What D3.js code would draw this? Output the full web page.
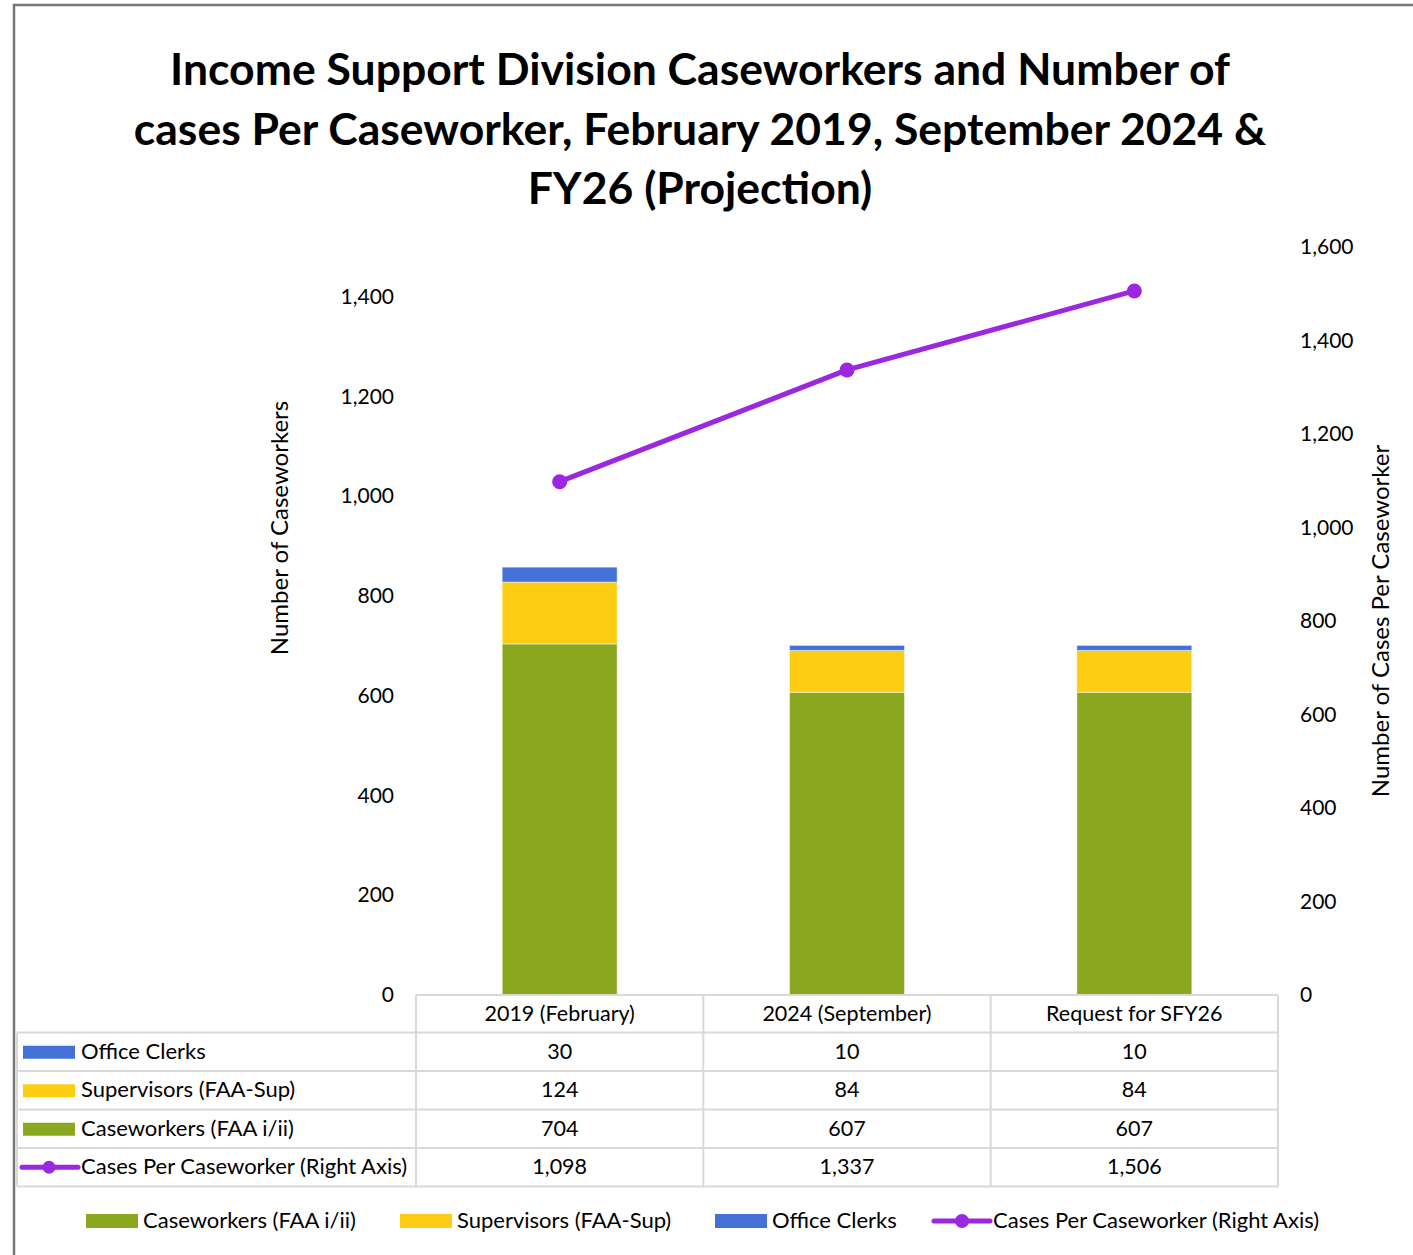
<!DOCTYPE html>
<html>
<head>
<meta charset="utf-8">
<script src="https://cdn.jsdelivr.net/npm/d3@7"></script>
<style>
  html, body { margin: 0; padding: 0; background: #fff; }
  svg { display: block; font-family: Lato, "Open Sans", sans-serif; }
  .title { font-weight: 700; font-size: 44.5px; fill: #000; }
  .tick-label { font-size: 21px; fill: #000; }
  .axis-title { font-size: 24px; fill: #000; }
  .table-text { font-size: 21.5px; fill: #000; }
  .label-text { font-size: 22px; fill: #000; }
  .grid-line { stroke: #d9d9d9; stroke-width: 2; }
</style>
</head>
<body>
<div id="chart"></div>
<script>
const categories = ["2019 (February)", "2024 (September)", "Request for SFY26"];
const caseworkers = [704, 607, 607];
const supervisors = [124, 84, 84];
const officeClerks = [30, 10, 10];
const casesPerCaseworker = [1098, 1337, 1506];
const leftTicks = [0, 200, 400, 600, 800, 1000, 1200, 1400];
const rightTicks = [0, 200, 400, 600, 800, 1000, 1200, 1400, 1600];
const titleLines = [
  "Income Support Division Caseworkers and Number of",
  "cases Per Caseworker, February 2019, September 2024 &",
  "FY26 (Projection)"
];

const WIDTH = 1413;
const HEIGHT = 1255;
const PLOT = { left: 416, right: 1278, top: 247, bottom: 995 };
const TABLE_LEFT = 15;
const ROW_H = 38.5;

const COLORS = {
  caseworkers: "#8aa81f",
  supervisors: "#fccd12",
  clerks: "#4471d8",
  line: "#9b27e0"
};

const fmt = d3.format(",");

const rows = categories.map((c, i) => ({
  category: c,
  caseworkers: caseworkers[i],
  supervisors: supervisors[i],
  clerks: officeClerks[i],
  cases: casesPerCaseworker[i]
}));

const svg = d3.select("#chart").append("svg")
  .attr("width", WIDTH)
  .attr("height", HEIGHT)
  .attr("viewBox", `0 0 ${WIDTH} ${HEIGHT}`);

// outer frame (runs off right and bottom edges like the screenshot)
svg.append("rect")
  .attr("x", 14).attr("y", 5)
  .attr("width", 1500).attr("height", 1400)
  .attr("fill", "none")
  .attr("stroke", "#767676")
  .attr("stroke-width", 2.5);

// title
svg.append("g").selectAll("text")
  .data(titleLines)
  .join("text")
  .attr("class", "title")
  .attr("x", 700)
  .attr("y", (d, i) => 85 + i * 59.5)
  .attr("text-anchor", "middle")
  .text(d => d);

const x = d3.scaleBand()
  .domain(categories)
  .range([PLOT.left, PLOT.right])
  .paddingInner(0)
  .paddingOuter(0);

const yLeft = d3.scaleLinear().domain([0, 1500]).range([PLOT.bottom, PLOT.top]);
const yRight = d3.scaleLinear().domain([0, 1600]).range([PLOT.bottom, PLOT.top]);

// left axis labels
svg.append("g").selectAll("text")
  .data(leftTicks)
  .join("text")
  .attr("class", "tick-label")
  .attr("x", 394)
  .attr("y", d => yLeft(d) + 7)
  .attr("text-anchor", "end")
  .text(d => fmt(d));

// right axis labels
svg.append("g").selectAll("text")
  .data(rightTicks)
  .join("text")
  .attr("class", "tick-label")
  .attr("x", 1300)
  .attr("y", d => yRight(d) + 7)
  .attr("text-anchor", "start")
  .text(d => fmt(d));

svg.append("text")
  .attr("class", "axis-title")
  .attr("transform", "translate(288,528) rotate(-90)")
  .attr("text-anchor", "middle")
  .text("Number of Caseworkers");

svg.append("text")
  .attr("class", "axis-title")
  .attr("transform", "translate(1389,621) rotate(-90)")
  .attr("text-anchor", "middle")
  .text("Number of Cases Per Caseworker");

// stacked bars
const keys = ["caseworkers", "supervisors", "clerks"];
const stacked = d3.stack().keys(keys)(rows);
const barW = x.bandwidth() * 0.4;

svg.append("g").selectAll("g")
  .data(stacked)
  .join("g")
  .attr("fill", d => COLORS[d.key])
  .selectAll("rect")
  .data(d => d)
  .join("rect")
  .attr("x", d => x(d.data.category) + (x.bandwidth() - barW) / 2)
  .attr("y", d => yLeft(d[1]))
  .attr("width", barW)
  .attr("height", d => yLeft(d[0]) - yLeft(d[1]))
  .attr("stroke", "#ffffff")
  .attr("stroke-opacity", 0.45)
  .attr("stroke-width", 1);

// line on right axis
const line = d3.line()
  .x(d => x(d.category) + x.bandwidth() / 2)
  .y(d => yRight(d.cases));

svg.append("path")
  .datum(rows)
  .attr("d", line)
  .attr("fill", "none")
  .attr("stroke", COLORS.line)
  .attr("stroke-width", 5)
  .attr("stroke-linejoin", "round");

svg.append("g").selectAll("circle")
  .data(rows)
  .join("circle")
  .attr("cx", d => x(d.category) + x.bandwidth() / 2)
  .attr("cy", d => yRight(d.cases))
  .attr("r", 7.5)
  .attr("fill", COLORS.line);

// data table
const tableRows = [
  { label: "Office Clerks", key: "clerks", type: "rect" },
  { label: "Supervisors (FAA-Sup)", key: "supervisors", type: "rect" },
  { label: "Caseworkers (FAA i/ii)", key: "caseworkers", type: "rect" },
  { label: "Cases Per Caseworker (Right Axis)", key: "cases", type: "line" }
];

const table = svg.append("g");
const headerTop = PLOT.bottom;
const bodyTop = headerTop + ROW_H - 1;
const tableBottom = bodyTop + tableRows.length * ROW_H;

// horizontal lines
table.append("line").attr("class", "grid-line")
  .attr("x1", PLOT.left).attr("x2", PLOT.right)
  .attr("y1", headerTop).attr("y2", headerTop);
d3.range(tableRows.length + 1).forEach(i => {
  table.append("line").attr("class", "grid-line")
    .attr("x1", TABLE_LEFT + 2).attr("x2", PLOT.right)
    .attr("y1", bodyTop + i * ROW_H).attr("y2", bodyTop + i * ROW_H);
});
// vertical lines
table.append("line").attr("class", "grid-line")
  .attr("x1", TABLE_LEFT + 2).attr("x2", TABLE_LEFT + 2)
  .attr("y1", bodyTop).attr("y2", tableBottom);
categories.forEach(c => {
  table.append("line").attr("class", "grid-line")
    .attr("x1", x(c)).attr("x2", x(c))
    .attr("y1", headerTop).attr("y2", tableBottom);
});
table.append("line").attr("class", "grid-line")
  .attr("x1", PLOT.right).attr("x2", PLOT.right)
  .attr("y1", headerTop).attr("y2", tableBottom);

// header labels
table.selectAll(".hdr")
  .data(categories)
  .join("text")
  .attr("class", "table-text")
  .attr("x", d => x(d) + x.bandwidth() / 2)
  .attr("y", headerTop + ROW_H / 2 + 7)
  .attr("text-anchor", "middle")
  .text(d => d);

tableRows.forEach((tr, r) => {
  const cy = bodyTop + r * ROW_H + ROW_H / 2;
  if (tr.type === "rect") {
    table.append("rect")
      .attr("x", 23).attr("y", cy - 6)
      .attr("width", 52).attr("height", 13)
      .attr("fill", COLORS[tr.key]);
  } else {
    table.append("line")
      .attr("x1", 22).attr("x2", 78)
      .attr("y1", cy).attr("y2", cy)
      .attr("stroke", COLORS.line).attr("stroke-width", 5)
      .attr("stroke-linecap", "round");
    table.append("circle")
      .attr("cx", 49).attr("cy", cy).attr("r", 6.5)
      .attr("fill", COLORS.line);
  }
  table.append("text")
    .attr("class", "label-text")
    .attr("x", 81).attr("y", cy + 7)
    .text(tr.label);
  table.selectAll(null)
    .data(rows)
    .join("text")
    .attr("class", "table-text")
    .attr("x", d => x(d.category) + x.bandwidth() / 2)
    .attr("y", cy + 7)
    .attr("text-anchor", "middle")
    .text(d => fmt(d[tr.key]));
});

// bottom legend
const legendItems = [
  { label: "Caseworkers (FAA i/ii)", key: "caseworkers", type: "rect", x: 86 },
  { label: "Supervisors (FAA-Sup)", key: "supervisors", type: "rect", x: 400 },
  { label: "Office Clerks", key: "clerks", type: "rect", x: 715 },
  { label: "Cases Per Caseworker (Right Axis)", key: "line", type: "line", x: 934 }
];
const legendY = 1221;
const legend = svg.append("g");
legendItems.forEach(item => {
  if (item.type === "rect") {
    legend.append("rect")
      .attr("x", item.x).attr("y", legendY - 7)
      .attr("width", 52).attr("height", 14)
      .attr("fill", COLORS[item.key]);
  } else {
    legend.append("line")
      .attr("x1", item.x).attr("x2", item.x + 56)
      .attr("y1", legendY).attr("y2", legendY)
      .attr("stroke", COLORS.line).attr("stroke-width", 5)
      .attr("stroke-linecap", "round");
    legend.append("circle")
      .attr("cx", item.x + 28).attr("cy", legendY).attr("r", 7)
      .attr("fill", COLORS.line);
  }
  legend.append("text")
    .attr("class", "label-text")
    .attr("x", item.x + (item.type === "rect" ? 57 : 59))
    .attr("y", legendY + 7)
    .text(item.label);
});
</script>
</body>
</html>
